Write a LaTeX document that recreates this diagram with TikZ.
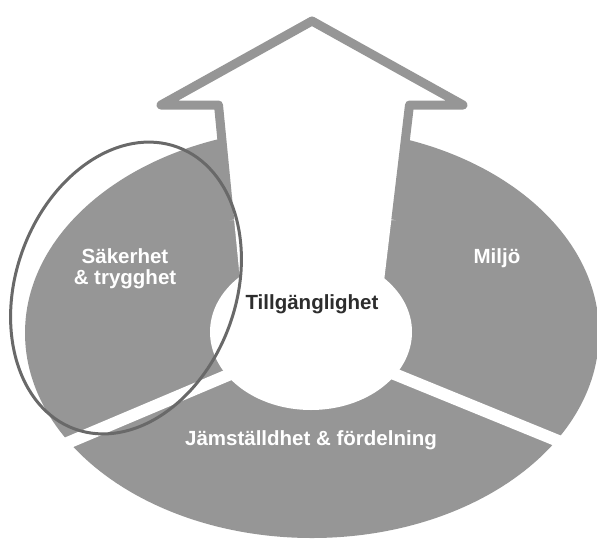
\documentclass[tikz,border=0pt]{standalone}
\usepackage{fontspec}
\setmainfont{Liberation Sans}
\usepackage{tikz}

\definecolor{ringgray}{RGB}{150,150,150}
\definecolor{ramgray}{RGB}{105,105,105}
\definecolor{textdark}{RGB}{45,45,45}

\begin{document}
\begin{tikzpicture}[x=1pt,y=-1pt,
    etikett/.style={font=\fontsize{20.5}{22}\selectfont\bfseries, text=white, inner sep=0pt, anchor=base},
    mitt/.style={etikett, text=textdark}]
            \useasboundingbox (0,0) rectangle (597,539);

            % Ringen
            \fill[ringgray] (312,333) ellipse [x radius=287, y radius=205];
            \fill[white] (311,332) ellipse [x radius=101, y radius=78];

            % Glapp mellan sektorerna
            \draw[white, line width=12] (311,340) -- (20,463);
            \draw[white, line width=12] (311,340) -- (600,458);

            % Pilen
            \fill[white] (223,105) -- (405,105) -- (380.6,310) -- (242.9,310) -- cycle;
            \filldraw[fill=white, draw=ringgray, line width=9, line join=round]
                (229.7,220) -- (218.5,105) -- (161,105) -- (312,21) -- (463,105) -- (409.5,105) -- (395.8,220);

            % Markering kring sektorn
            \draw[ramgray, line width=3, rotate around={70:(126,288)}] (126,288) ellipse [x radius=150, y radius=110];

            % Texter
            \node[etikett] (sak) at (125,263) {Säkerhet};
            \node[etikett] (tryg) at (125,284) {\& trygghet};
            \node[etikett] (miljo) at (497,263) {Miljö};
            \node[mitt] (tillg) at (312,309) {Tillgänglighet};
            \node[etikett] (jams) at (311,445) {Jämställdhet \& fördelning};
        \end{tikzpicture}
\end{document}
